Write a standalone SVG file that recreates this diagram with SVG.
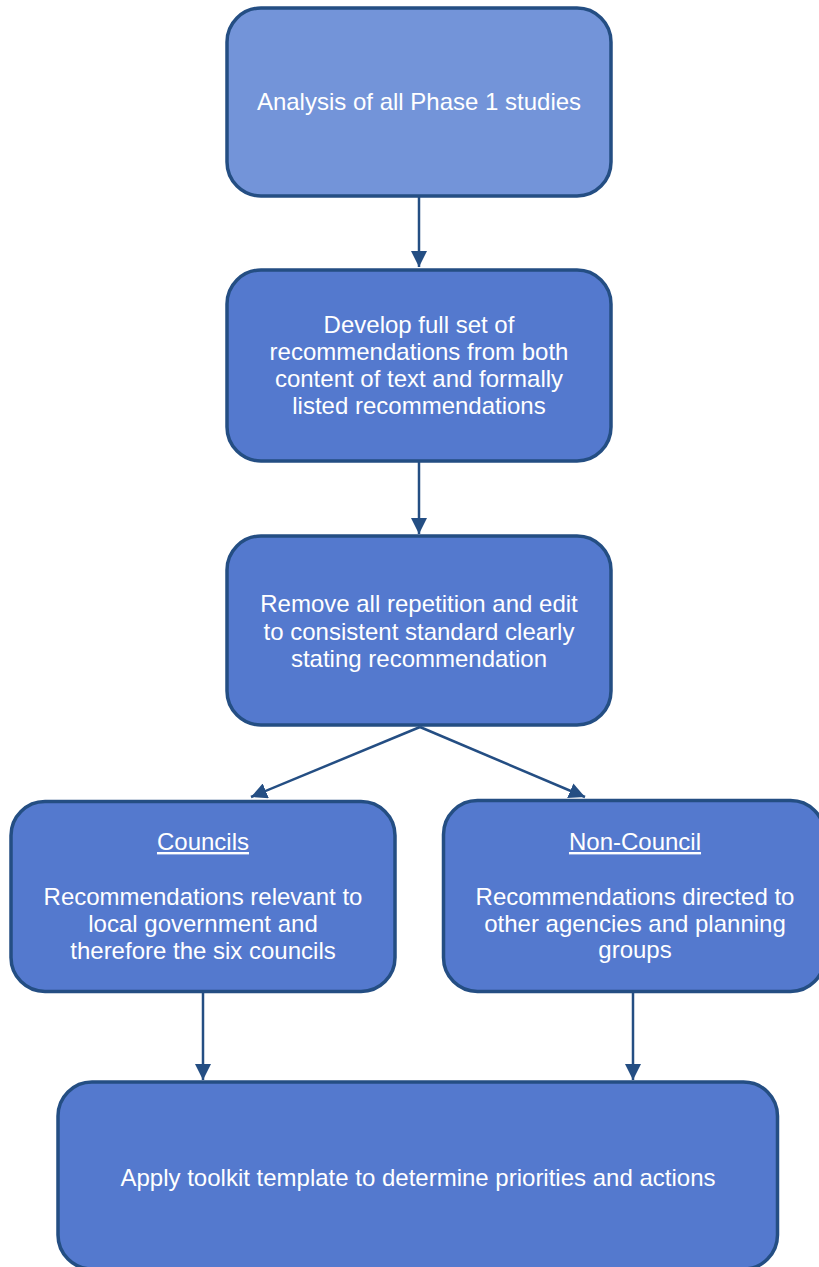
<svg xmlns="http://www.w3.org/2000/svg" width="819" height="1267" viewBox="0 0 819 1267">
<defs>
<style>
.box{fill:#5479CE;stroke:#244E83;stroke-width:3.5}
.top{fill:#7394D9}
.t{font-family:"Liberation Sans",Arial,sans-serif;font-size:24px;fill:#FFFFFF;text-anchor:middle}
.u{text-decoration:underline}
.c{stroke:#244E83;stroke-width:2.5;fill:none}
</style>
<marker id="ah" viewBox="0 0 10 10" refX="10" refY="5" markerWidth="6.4" markerHeight="6.4" markerUnits="strokeWidth" orient="auto">
<path d="M0,0 L10,5 L0,10 z" fill="#244E83"/>
</marker>
</defs>
<rect width="819" height="1267" fill="#FFFFFF"/>
<g id="connectors">
<line class="c" x1="419" y1="197" x2="419" y2="267" marker-end="url(#ah)"/>
<line class="c" x1="419" y1="462" x2="419" y2="534" marker-end="url(#ah)"/>
<line class="c" x1="420" y1="727" x2="251" y2="797" marker-end="url(#ah)"/>
<line class="c" x1="420" y1="727" x2="585" y2="797" marker-end="url(#ah)"/>
<line class="c" x1="203" y1="993" x2="203" y2="1080" marker-end="url(#ah)"/>
<line class="c" x1="633" y1="993" x2="633" y2="1080" marker-end="url(#ah)"/>
</g>
<g id="node-analysis">
<rect class="box top" x="227" y="8" width="384" height="188" rx="34"/>
<text class="t" x="419" y="110">Analysis of all Phase 1 studies</text>
</g>
<g id="node-develop">
<rect class="box" x="227" y="270" width="384" height="191" rx="34"/>
<text class="t" x="419" y="333">Develop full set of</text>
<text class="t" x="419" y="360">recommendations from both</text>
<text class="t" x="419" y="387">content of text and formally</text>
<text class="t" x="419" y="414">listed recommendations</text>
</g>
<g id="node-remove">
<rect class="box" x="227" y="536" width="384" height="189" rx="34"/>
<text class="t" x="419" y="612">Remove all repetition and edit</text>
<text class="t" x="419" y="640">to consistent standard clearly</text>
<text class="t" x="419" y="667">stating recommendation</text>
</g>
<g id="node-councils">
<rect class="box" x="11" y="801.5" width="384" height="190" rx="34"/>
<text class="t u" x="203" y="850">Councils</text>
<text class="t" x="203" y="905">Recommendations relevant to</text>
<text class="t" x="203" y="932">local government and</text>
<text class="t" x="203" y="959">therefore the six councils</text>
</g>
<g id="node-noncouncil">
<rect class="box" x="443.5" y="800.5" width="381" height="191" rx="34"/>
<text class="t u" x="635" y="850">Non-Council</text>
<text class="t" x="635" y="905">Recommendations directed to</text>
<text class="t" x="635" y="932">other agencies and planning</text>
<text class="t" x="635" y="958">groups</text>
</g>
<g id="node-apply">
<rect class="box" x="58" y="1082" width="719.5" height="187" rx="34"/>
<text class="t" x="418" y="1186">Apply toolkit template to determine priorities and actions</text>
</g>
</svg>
